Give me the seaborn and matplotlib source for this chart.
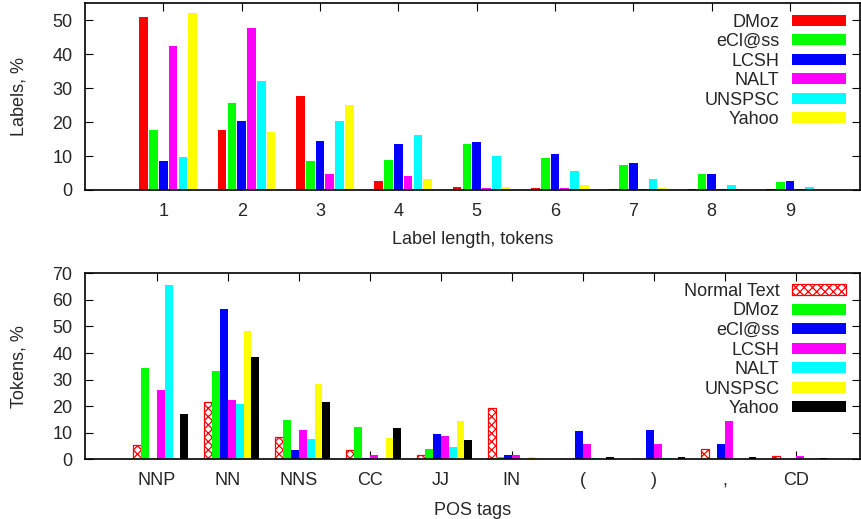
import numpy as np
import pandas as pd
import matplotlib
matplotlib.use("Agg")
import matplotlib.pyplot as plt
from matplotlib.patches import Patch
import seaborn as sns

# ---------------- data ----------------
lengths = ["1", "2", "3", "4", "5", "6", "7", "8", "9"]
top_sources = ["DMoz", "eCl@ss", "LCSH", "NALT", "UNSPSC", "Yahoo"]
dmoz = [51.0, 17.6, 27.6, 2.6, 0.9, 0.6, 0.3, 0.3, 0.2]
eclass = [17.6, 25.6, 8.5, 8.8, 13.5, 9.4, 7.4, 4.7, 2.4]
lcsh = [8.5, 20.3, 14.4, 13.5, 14.1, 10.6, 7.9, 4.7, 2.6]
nalt = [42.4, 47.7, 4.7, 4.1, 0.6, 0.6, 0.2, 0.2, 0.2]
unspsc = [9.7, 32.1, 20.3, 16.2, 10.0, 5.6, 3.2, 1.5, 0.9]
yahoo = [52.2, 17.1, 25.0, 3.2, 0.9, 1.5, 0.6, 0.3, 0.2]

tags = ["NNP", "NN", "NNS", "CC", "JJ", "IN", "(", ")", ",", "CD"]
bottom_sources = ["Normal Text", "DMoz", "eCl@ss", "LCSH", "NALT", "UNSPSC", "Yahoo"]
normal_b = [5.4, 21.6, 8.3, 3.5, 1.6, 19.3, 0.1, 0.1, 3.9, 1.3]
dmoz_b = [34.4, 33.2, 14.8, 12.2, 3.9, 0.9, 0.1, 0.1, 0.1, 0.1]
eclass_b = [0.2, 56.6, 3.5, 0.5, 9.5, 1.6, 10.7, 11.0, 5.8, 0.1]
lcsh_b = [26.1, 22.3, 11.0, 1.6, 8.8, 1.6, 5.8, 5.8, 14.4, 1.3]
nalt_b = [65.7, 20.8, 7.7, 0.1, 4.6, 0.1, 0.5, 0.5, 0.1, 0.0]
unspsc_b = [0.3, 48.3, 28.4, 8.0, 14.4, 0.9, 0.1, 0.1, 0.1, 0.1]
yahoo_b = [17.1, 38.5, 21.6, 11.8, 7.3, 0.1, 0.9, 0.9, 0.9, 0.5]

top_colors = ["#ff0000", "#00ff00", "#0000ff", "#ff00ff", "#00ffff", "#ffff00"]
bottom_colors = ["#ff0000", "#00ff00", "#0000ff", "#ff00ff", "#00ffff", "#ffff00", "#000000"]

# ---------------- style ----------------
sns.set_style("ticks")
plt.rcParams["font.family"] = ["Liberation Sans", "DejaVu Sans"]
plt.rcParams["hatch.linewidth"] = 0.9
FS = 13

df_top = pd.DataFrame({"length": lengths, "DMoz": dmoz, "eCl@ss": eclass,
                       "LCSH": lcsh, "NALT": nalt, "UNSPSC": unspsc,
                       "Yahoo": yahoo}).melt(id_vars="length",
                                             var_name="source", value_name="pct")
df_bot = pd.DataFrame({"tag": tags, "Normal Text": normal_b, "DMoz": dmoz_b,
                       "eCl@ss": eclass_b, "LCSH": lcsh_b, "NALT": nalt_b,
                       "UNSPSC": unspsc_b, "Yahoo": yahoo_b}).melt(
    id_vars="tag", var_name="source", value_name="pct")

W, H = 862, 519
fig = plt.figure(figsize=(W / 100, H / 100), dpi=100)


def rect(l, t, r, b):
    return [l / W, 1 - b / H, (r - l) / W, (b - t) / H]


ax1 = fig.add_axes(rect(85, 3.3, 860.5, 190))
ax2 = fig.add_axes(rect(85, 273.3, 860.5, 459.3))

legend_kw = dict(loc="upper right", frameon=False, markerfirst=False, fontsize=FS,
                 handlelength=3.0, handleheight=0.55, handletextpad=0.67,
                 labelspacing=0.14, borderpad=0, borderaxespad=0)

# ---------------- top chart ----------------
n1 = len(top_sources)
s1 = 1.0 / (n1 + 2)
sns.barplot(data=df_top, x="length", y="pct", hue="source", order=lengths,
            hue_order=top_sources, palette=top_colors, width=n1 * s1, gap=0.12,
            saturation=1, errorbar=None, linewidth=0, legend=False, ax=ax1)
ax1.set_xticks(np.arange(len(lengths)) - s1 / 2)
ax1.set_xticklabels(lengths)
ax1.set_xlim(-1.0 - s1 / 2, len(lengths) - 1 + 0.90 - s1 / 2)
ax1.set_ylim(0, 55)
ax1.set_yticks(np.arange(0, 51, 10))
ax1.set_xlabel("Label length, tokens", fontsize=FS, labelpad=8)
ax1.set_ylabel("Labels, %", fontsize=FS, labelpad=18)
h1 = [Patch(facecolor=c, edgecolor="none", label=l) for c, l in zip(top_colors, top_sources)]
ax1.legend(handles=h1, bbox_to_anchor=(0.981, 0.945), **legend_kw)

# ---------------- bottom chart ----------------
n2 = len(bottom_sources)
s2 = 1.0 / (n2 + 2)
sns.barplot(data=df_bot, x="tag", y="pct", hue="source", order=tags,
            hue_order=bottom_sources, palette=bottom_colors, width=n2 * s2, gap=0,
            saturation=1, errorbar=None, linewidth=0, legend=False, ax=ax2)
for p in ax2.containers[0].patches:
    p.set_facecolor("white")
    p.set_edgecolor("#ff0000")
    p.set_linewidth(0.9)
    p.set_hatch("xxxx")
ax2.set_xticks(np.arange(len(tags)) - s2 / 2)
ax2.set_xticklabels(tags)
ax2.set_xlim(-1.01 - s2 / 2, len(tags) - 1 + 0.91 - s2 / 2)
ax2.set_ylim(0, 70)
ax2.set_yticks(np.arange(0, 71, 10))
ax2.set_xlabel("POS tags", fontsize=FS, labelpad=9)
ax2.set_ylabel("Tokens, %", fontsize=FS, labelpad=18)
h2 = [Patch(facecolor="white", edgecolor="#ff0000", hatch="xxxx", linewidth=0.9,
            label=bottom_sources[0])]
h2 += [Patch(facecolor=c, edgecolor="none", label=l)
       for c, l in zip(bottom_colors[1:], bottom_sources[1:])]
ax2.legend(handles=h2, bbox_to_anchor=(0.981, 0.948), **legend_kw)

for ax in (ax1, ax2):
    for sp in ax.spines.values():
        sp.set_visible(True)
        sp.set_color("black")
        sp.set_linewidth(1.2)
    ax.tick_params(axis="both", which="major", direction="in", length=5.5,
                   width=0.8, color="black", labelsize=FS, top=True, right=True)
    ax.tick_params(axis="x", pad=9.5)
    ax.tick_params(axis="y", pad=9)
    ax.set_facecolor("white")

fig.savefig("out.png", dpi=100, facecolor="white")
